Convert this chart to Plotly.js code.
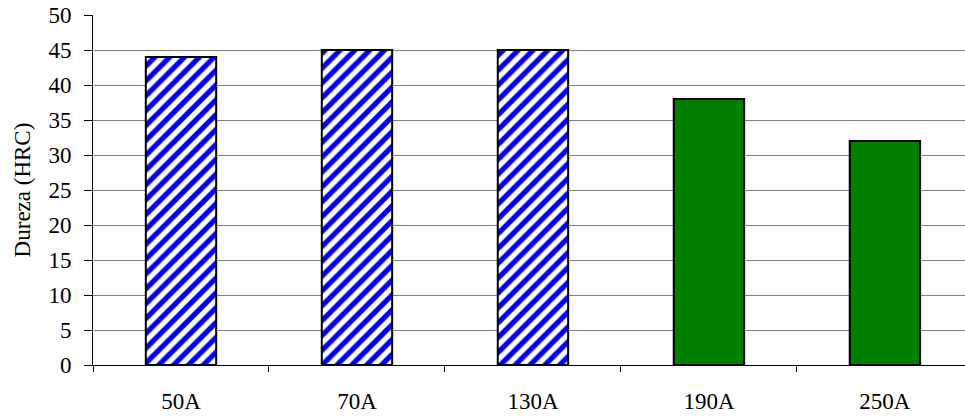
<!DOCTYPE html>
<html>
<head>
<meta charset="utf-8">
<script src="https://cdn.plot.ly/plotly-3.0.1.min.js"></script>
<style>html,body{margin:0;padding:0;background:#fff;}#chart{width:965px;height:416px;}</style>
</head>
<body>
<div id="chart"></div>
<script>
const categories = ['50A', '70A', '130A', '190A', '250A'];
const hardness = [44, 45, 45, 38, 32];
const hatchedCount = 3; // first three bars are hatched blue, rest solid green
const yTicks = [0, 5, 10, 15, 20, 25, 30, 35, 40, 45, 50];

const hatched = {
  type: 'bar',
  x: categories.slice(0, hatchedCount),
  y: hardness.slice(0, hatchedCount),
  marker: {
    color: '#ffffff',
    line: {color: '#000000', width: 2},
    pattern: {shape: '/', fgcolor: '#0000ff', bgcolor: '#ffffff', fgopacity: 1, fillmode: 'overlay', size: 10.5, solidity: 0.5}
  },
  hoverinfo: 'x+y'
};
const solid = {
  type: 'bar',
  x: categories.slice(hatchedCount),
  y: hardness.slice(hatchedCount),
  marker: {color: '#008000', line: {color: '#000000', width: 2}},
  hoverinfo: 'x+y'
};

const font = {family: 'Liberation Serif, Times New Roman, serif', size: 23, color: '#000'};

const layout = {
  width: 965, height: 416,
  margin: {l: 93, r: 0, t: 15, b: 51},
  paper_bgcolor: '#ffffff', plot_bgcolor: '#ffffff',
  font: font,
  showlegend: false,
  barmode: 'overlay',
  bargap: 0.6,
  xaxis: {
    type: 'category',
    categoryorder: 'array', categoryarray: categories,
    range: [-0.5, 4.455],
    showgrid: false,
    zeroline: false,
    showline: true, linecolor: '#000', linewidth: 1,
    ticks: 'outside', tickson: 'boundaries', ticklen: 6, tickcolor: '#000', tickwidth: 1,
    ticklabelstandoff: 15,
    tickfont: font,
    fixedrange: true
  },
  yaxis: {
    range: [0, 50],
    tickvals: yTicks,
    ticktext: yTicks.map(String),
    showgrid: true, gridcolor: '#808080', gridwidth: 1,
    zeroline: false,
    showline: true, linecolor: '#000', linewidth: 1,
    ticks: 'outside', ticklen: 8, tickcolor: '#000', tickwidth: 1,
    ticklabelstandoff: 8,
    tickfont: font,
    title: {text: 'Dureza (HRC)', font: font, standoff: 11},
    fixedrange: true
  }
};

Plotly.newPlot('chart', [hatched, solid], layout, {displayModeBar: false, staticPlot: true});
</script>
</body>
</html>
